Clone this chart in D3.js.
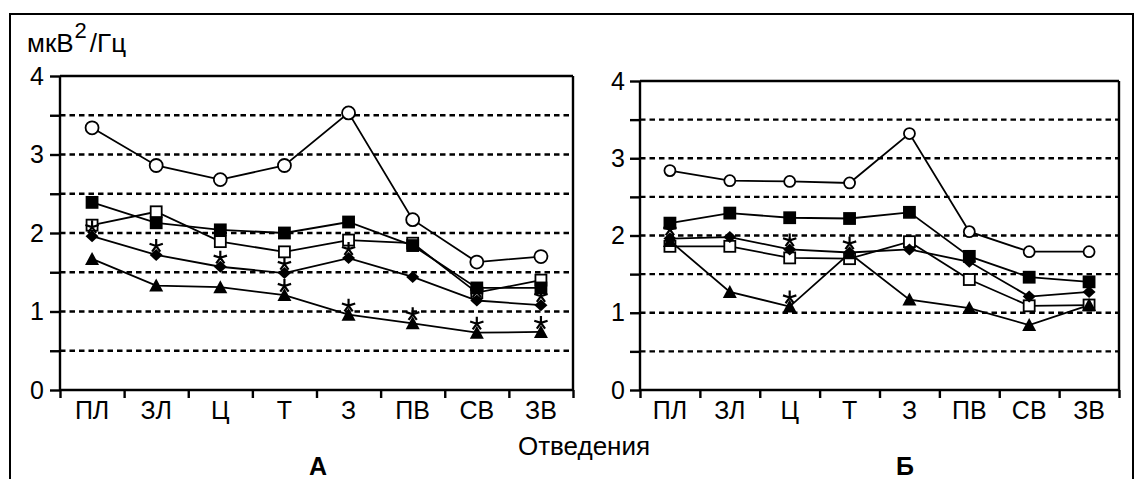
<!DOCTYPE html>
<html><head><meta charset="utf-8">
<script src="https://cdn.jsdelivr.net/npm/d3@7"></script>
<style>body{margin:0;background:#fff}svg{display:block}text{font-family:"Liberation Sans",Arial,sans-serif;fill:#000}</style>
</head><body>
<svg id="c" width="1140" height="479"></svg>
<script>
const categories = ["ПЛ","ЗЛ","Ц","Т","З","ПВ","СВ","ЗВ"];
const yTicks = [0,0.5,1,1.5,2,2.5,3,3.5,4];
const gridValues = [0.5,1,1.5,2,2.5,3,3.5];
// Panel A
const circleA   = [3.34, 2.86, 2.68, 2.86, 3.53, 2.17, 1.63, 1.70];
const openSqA   = [2.10, 2.27, 1.89, 1.76, 1.91, 1.87, 1.24, 1.40];
const filledSqA = [2.39, 2.13, 2.04, 2.00, 2.14, 1.84, 1.30, 1.30];
const diamondA  = [1.96, 1.72, 1.57, 1.49, 1.68, 1.44, 1.14, 1.08];
const triangleA = [1.67, 1.33, 1.31, 1.21, 0.96, 0.85, 0.73, 0.74];
const starsDiamondA  = [1,1,1,1,1,0,1,1];
const starsTriangleA = [0,0,0,1,1,1,1,1];
// Panel B
const circleB   = [2.84, 2.71, 2.70, 2.68, 3.32, 2.05, 1.79, 1.79];
const openSqB   = [1.86, 1.86, 1.71, 1.70, 1.92, 1.43, 1.09, 1.10];
const filledSqB = [2.16, 2.29, 2.23, 2.22, 2.30, 1.73, 1.46, 1.40];
const diamondB  = [1.96, 1.98, 1.82, 1.78, 1.82, 1.66, 1.21, 1.27];
const triangleB = [1.93, 1.27, 1.08, 1.77, 1.17, 1.06, 0.84, 1.10];
const starsDiamondB  = [1,0,1,1,0,0,0,0];
const starsTriangleB = [0,0,1,0,0,0,0,0];

const unitLabel = "мкВ";
const unitSup = "2";
const unitTail = "/Гц";
const xTitle = "Отведения";
const panelLabels = ["А","Б"];

const svg = d3.select("#c");
// outer frame
svg.append("rect").attr("x",10).attr("y",14).attr("width",1123).attr("height",490)
  .attr("fill","none").attr("stroke","#000").attr("stroke-width",2);

// unit label
const ul = svg.append("text").attr("x",27).attr("y",52).style("font-size","26px");
ul.append("tspan").text(unitLabel);
ul.append("tspan").attr("dx",1).attr("dy",-14).style("font-size","22px").text(unitSup);
ul.append("tspan").attr("dx",3).attr("dy",14).text(unitTail);

function panel(cfg){
  const g = svg.append("g");
  const y = d3.scaleLinear().domain([0,4]).range([390, cfg.yTop]);
  const xb = d3.scaleBand().domain(categories).range([cfg.x0, cfg.x1]).padding(0);
  const xl = d3.scaleLinear().domain([0,categories.length]).range([cfg.x0, cfg.x1]);
  const cx = c => xb(c) + xb.bandwidth()/2;

  // grid
  g.selectAll("line.grid").data(gridValues).join("line").attr("class","grid")
    .attr("x1",cfg.x0).attr("x2",cfg.x1).attr("y1",d=>y(d)).attr("y2",d=>y(d))
    .attr("stroke","#000").attr("stroke-width",2.4).attr("stroke-dasharray","5.5,4");
  // frame top/right
  g.append("line").attr("x1",cfg.x0).attr("x2",cfg.x1).attr("y1",y(4)).attr("y2",y(4)).attr("stroke","#000").attr("stroke-width",2.4);
  g.append("line").attr("x1",cfg.x1).attr("x2",cfg.x1).attr("y1",y(4)).attr("y2",y(0)).attr("stroke","#000").attr("stroke-width",2.4);

  // y axis
  const ya = g.append("g").attr("transform",`translate(${cfg.x0},0)`)
    .call(d3.axisLeft(y).tickValues(yTicks).tickSize(10).tickPadding(cfg.pad)
      .tickFormat(d => Number.isInteger(d) ? d : ""));
  ya.select(".domain").attr("stroke-width",2.4).attr("d",`M-0,${y(4)}V${y(0)}`);
  ya.selectAll(".tick line").attr("stroke-width",2.4);
  ya.selectAll(".tick text").style("font-size","25px").style("font-family","Liberation Sans, Arial, sans-serif");

  // x axis boundaries
  const xa = g.append("g").attr("transform","translate(0,390)")
    .call(d3.axisBottom(xl).tickValues(d3.range(0,categories.length+1)).tickSize(8).tickFormat(""));
  xa.select(".domain").attr("stroke-width",2.4).attr("d",`M${cfg.x0},0H${cfg.x1}`);
  xa.selectAll(".tick line").attr("stroke-width",2.4);
  // x labels
  const xlab = g.append("g").attr("transform","translate(0,390)")
    .call(d3.axisBottom(xb).tickSize(0).tickPadding(11));
  xlab.select(".domain").remove();
  xlab.selectAll(".tick text").style("font-size","25px").style("font-family","Liberation Sans, Arial, sans-serif");

  const line = d3.line().x((d,i)=>cx(categories[i])).y(d=>y(d));
  const series = [
    {v:cfg.circle, type:"circle"},
    {v:cfg.openSq, type:"openSq"},
    {v:cfg.filledSq, type:"filledSq"},
    {v:cfg.diamond, type:"diamond"},
    {v:cfg.triangle, type:"triangle"}
  ];
  series.forEach(s=>{
    g.append("path").attr("d",line(s.v)).attr("fill","none").attr("stroke","#000").attr("stroke-width",1.8);
  });
  series.forEach(s=>{
    s.v.forEach((d,i)=>{
      const px = cx(categories[i]), py = y(d);
      if(s.type==="circle"){
        g.append("circle").attr("cx",px).attr("cy",py).attr("r",cfg.cr).attr("fill","#fff").attr("stroke","#000").attr("stroke-width",1.8);
      } else if(s.type==="openSq" || s.type==="filledSq"){
        g.append("rect").attr("x",px-5.5).attr("y",py-5.5).attr("width",11).attr("height",11)
          .attr("fill", s.type==="openSq"?"#fff":"#000").attr("stroke","#000").attr("stroke-width",1.8);
      } else if(s.type==="diamond"){
        g.append("path").attr("d",`M${px},${py-6}L${px+6.5},${py}L${px},${py+6}L${px-6.5},${py}Z`).attr("fill","#000");
      } else {
        g.append("path").attr("d",`M${px},${py-7}L${px+7},${py+6}L${px-7},${py+6}Z`).attr("fill","#000");
      }
    });
  });
  // stars (asterisks)
  function star(px,py){
    const r=7; let d="";
    for(let k=0;k<5;k++){
      const a = -Math.PI/2 + k*2*Math.PI/5;
      d += `M${px},${py}L${px+r*Math.cos(a)},${py+r*Math.sin(a)}`;
    }
    g.append("path").attr("d",d).attr("stroke","#000").attr("stroke-width",2.2).attr("fill","none");
  }
  cfg.starsD.forEach((f,i)=>{ if(f) star(cx(categories[i]), y(cfg.diamond[i])-9); });
  cfg.starsT.forEach((f,i)=>{ if(f) star(cx(categories[i]), y(cfg.triangle[i])-9); });

  svg.append("text").attr("x",cfg.labelX).attr("y",475).attr("text-anchor","middle")
    .style("font-size","25px").style("font-weight","bold").text(cfg.label);
}

panel({x0:60,x1:573,yTop:76,pad:6,cr:6.5,circle:circleA,openSq:openSqA,filledSq:filledSqA,diamond:diamondA,triangle:triangleA,
  starsD:starsDiamondA,starsT:starsTriangleA,label:panelLabels[0],labelX:318});
panel({x0:640,x1:1119,yTop:81,pad:5,cr:5.5,circle:circleB,openSq:openSqB,filledSq:filledSqB,diamond:diamondB,triangle:triangleB,
  starsD:starsDiamondB,starsT:starsTriangleB,label:panelLabels[1],labelX:905});

svg.append("text").attr("x",584).attr("y",455).attr("text-anchor","middle").style("font-size","26px").text(xTitle);
</script>
</body></html>
